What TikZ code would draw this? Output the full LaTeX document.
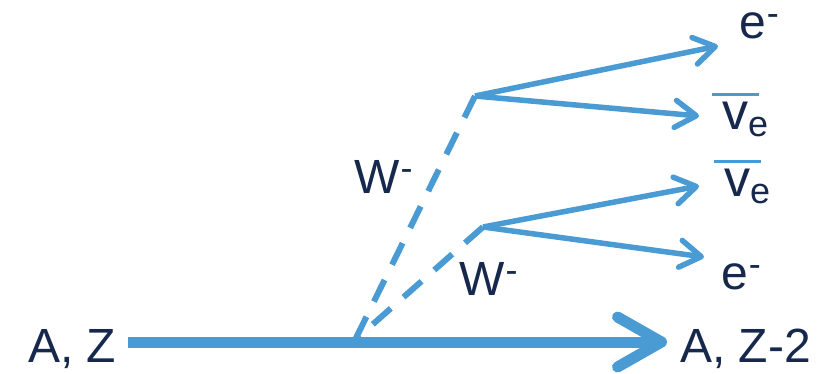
\documentclass[tikz,border=0pt]{standalone}
\usepackage{fontspec}
\setmainfont{Liberation Sans}
\usetikzlibrary{arrows.meta}
\definecolor{beam}{RGB}{74,155,212}
\definecolor{ink}{RGB}{22,41,76}
% superscript minus and subscript e
\newcommand\negsup{\kern1pt\raisebox{13pt}{\fontsize{36}{36}\selectfont -}}
\newcommand\nusym{{\fontsize{52}{52}\selectfont v}\raisebox{-7pt}{\fontsize{36}{36}\selectfont e}}
\begin{document}
\begin{tikzpicture}[x=1pt,y=-1pt,
  lbl/.style={text=ink, inner sep=0pt, anchor=base west, font=\fontsize{48}{48}\selectfont},
  fan/.style={draw=beam, line width=5.5pt, -{Straight Barb[round,length=21pt,width=27pt]}},
  wline/.style={draw=beam, line width=6pt, dash pattern=on 24pt off 17pt},
  beamarrow/.style={draw=beam, line width=11pt, -{Straight Barb[round,length=44pt,width=50pt]}},
  bar/.style={draw=beam, line width=3pt}]
\useasboundingbox (0,0) rectangle (833,373);

% vertices
\coordinate (v0) at (355,340);
\coordinate (w1) at (475,96);
\coordinate (w2) at (483,227);
\coordinate (src) at (128,342);
\coordinate (tipA) at (667,342);
\coordinate (tipE1) at (718,46);
\coordinate (tipNu1) at (699,116);
\coordinate (tipNu2) at (699,186);
\coordinate (tipE2) at (704,257);

% labels
\node[lbl] (az) at (28,362) {A, Z};
\node[lbl] (az2) at (680,362) {A, Z-2};
\node[lbl] (wTop) at (354,193) {W\negsup};
\node[lbl] (wLow) at (459,295) {W\negsup};
\node[lbl] (eTop) at (739,38) {e\negsup};
\node[lbl] (nuTop) at (722,129) {\nusym};
\node[lbl] (nuLow) at (724,196) {\nusym};
\node[lbl] (eLow) at (721,289) {e\negsup};

% antineutrino bars
\draw[bar] ([shift={(-10,-35)}]nuTop.base west) -- ++(47,0);
\draw[bar] ([shift={(-10,-35)}]nuLow.base west) -- ++(47,0);

% nucleus line
\draw[beamarrow] (src) -- (tipA);

% virtual W bosons
\draw[wline] (w1) -- (v0);
\draw[wline] (w2) -- (v0);

% decay products
\draw[fan] (w1) -- (tipE1);
\draw[fan] (w1) -- (tipNu1);
\draw[fan] (w2) -- (tipNu2);
\draw[fan] (w2) -- (tipE2);
\end{tikzpicture}
\end{document}
